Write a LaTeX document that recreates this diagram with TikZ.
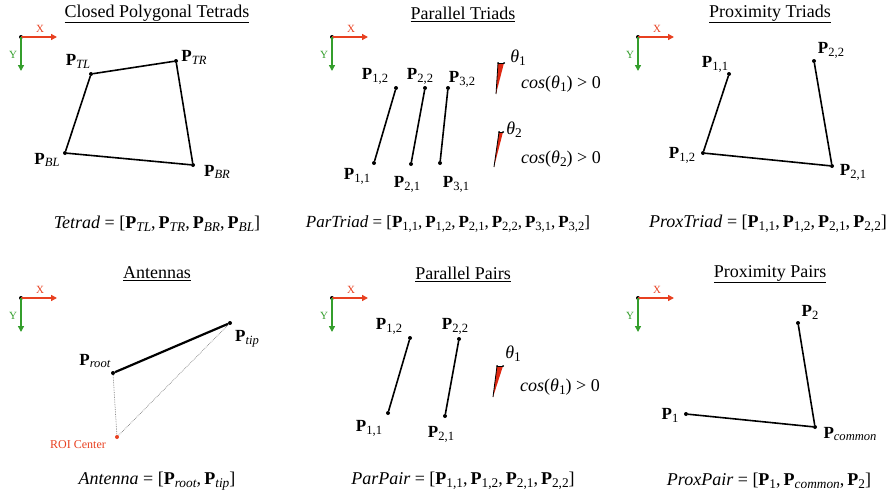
\documentclass[tikz,border=0pt]{standalone}
\usepackage{fontspec}
\usepackage{graphicx}
\setmainfont{Liberation Serif}
\usetikzlibrary{arrows.meta,calc}
\definecolor{axred}{RGB}{232,64,32}
\definecolor{axgreen}{RGB}{52,158,44}
\definecolor{wedgered}{RGB}{222,40,18}
\newcommand\mysub[1]{\raisebox{-0.17em}{\scalebox{0.74}{#1}}}
\newcommand\Pt[1]{\textbf{P}\mysub{#1}}
\newcommand\Pit[1]{\textbf{P}\mysub{\textit{#1}}}
\newcommand\cm{,\hspace{0.17em}}
\tikzset{
  pt/.style={circle,fill=black,inner sep=0pt,minimum size=4pt},
  seg/.style={line width=1.6pt},
  lbl/.style={font=\fontsize{17}{19}\selectfont,inner sep=0pt},
  ttl/.style={font=\fontsize{18}{20}\selectfont,inner sep=0pt},
  frm/.style={font=\fontsize{18}{20}\selectfont,inner sep=0pt},
  axlbl/.style={font=\fontsize{11}{12}\selectfont,inner sep=0pt},
  axarrow/.style={line width=1.4pt,-{Triangle[length=6pt,width=6pt]}},
  roi/.style={densely dotted,gray,line width=0.7pt}
}
\newcommand\drawaxes[3]{%
  \node[circle,fill=black,inner sep=0pt,minimum size=4pt] (o#3) at (#1,#2) {};
  \coordinate (xe#3) at ($(o#3)+(36,0)$);
  \coordinate (ye#3) at ($(o#3)+(0,34)$);
  \draw[axarrow,axred] (o#3.center) -- (xe#3);
  \draw[axarrow,axgreen] (o#3.center) -- (ye#3);
  \node[axlbl,text=axred] (xl#3) at ($(o#3)+(19,-8)$) {X};
  \node[axlbl,text=axgreen] (yl#3) at ($(o#3)+(-8,18)$) {Y};
}
\newcommand\mywedge[7]{%
  \coordinate (wb#7) at (#1,#2);
  \coordinate (wl#7) at (#3,#4);
  \coordinate (wr#7) at (#5,#6);
  \fill[wedgered] (wb#7) -- (wl#7) -- (wr#7) -- cycle;
  \draw[line width=0.8pt] (wb#7) -- (wl#7);
  \draw[line width=0.8pt] (wl#7) -- (wr#7);
  \fill (wl#7) circle (1pt) (wr#7) circle (1pt);
}
\begin{document}
\begin{tikzpicture}[x=1pt,y=-1pt]
\useasboundingbox (0,0) rectangle (891,498);
% ---------- Panel 1: Tetrads
\node[ttl] (t1) at (157,14) {\underline{Closed Polygonal Tetrads}};
\drawaxes{21}{37}{a}
\node[pt] (ptl) at (91,74) {};
\node[pt] (ptr) at (176,61) {};
\node[pt] (pbr) at (193,165) {};
\node[pt] (pbl) at (65,153) {};
\draw[seg] (ptl) -- (ptr) -- (pbr) -- (pbl) -- (ptl);
\node[lbl] (lptl) at (78,61) {\Pit{TL}};
\node[lbl] (lptr) at (194,57) {\Pit{TR}};
\node[lbl] (lpbl) at (47,160) {\Pit{BL}};
\node[lbl] (lpbr) at (217,172) {\Pit{BR}};
\node[frm] (f1) at (157,224) {\textit{Tetrad} = [\Pit{TL}\cm\Pit{TR}\cm\Pit{BR}\cm\Pit{BL}]};
% ---------- Panel 2: Parallel Triads
\node[ttl] (t2) at (463,14) {\underline{Parallel Triads}};
\drawaxes{332}{37}{b}
\node[pt] (a11) at (374,163) {};
\node[pt] (a12) at (396,88) {};
\node[pt] (a21) at (411,164) {};
\node[pt] (a22) at (425,88) {};
\node[pt] (a31) at (440,163) {};
\node[pt] (a32) at (448,88) {};
\draw[seg] (a11) -- (a12);
\draw[seg] (a21) -- (a22);
\draw[seg] (a31) -- (a32);
\node[lbl] (la12) at (375,76) {\Pt{1,2}};
\node[lbl] (la22) at (420,76) {\Pt{2,2}};
\node[lbl] (la32) at (462,79) {\Pt{3,2}};
\node[lbl] (la11) at (357,176) {\Pt{1,1}};
\node[lbl] (la21) at (407,184) {\Pt{2,1}};
\node[lbl] (la31) at (456,184) {\Pt{3,1}};
\mywedge{496}{94}{498}{63}{504}{63}{a}
\mywedge{494}{167}{499}{132}{503}{132}{b}
\node[frm] (th1) at (518,58) {\textit{θ}\mysub{1}};
\node[frm] (c1) at (561,84) {\textit{cos}(\textit{θ}\mysub{1}) > 0};
\node[frm] (th2) at (514,130) {\textit{θ}\mysub{2}};
\node[frm] (c2) at (561,159) {\textit{cos}(\textit{θ}\mysub{2}) > 0};
\node[frm,font=\fontsize{17}{19}\selectfont] (f2) at (448,224) {\textit{ParTriad} = [\Pt{1,1}\cm\Pt{1,2}\cm\Pt{2,1}\cm\Pt{2,2}\cm\Pt{3,1}\cm\Pt{3,2}]};
% ---------- Panel 3: Proximity Triads
\node[ttl] (t3) at (770,14) {\underline{Proximity Triads}};
\drawaxes{638}{37}{c}
\node[pt] (b11) at (729,74) {};
\node[pt] (b12) at (703,153) {};
\node[pt] (b21) at (832,166) {};
\node[pt] (b22) at (814,61) {};
\draw[seg] (b11) -- (b12) -- (b21) -- (b22);
\node[lbl] (lb11) at (715,64) {\Pt{1,1}};
\node[lbl] (lb22) at (831,50) {\Pt{2,2}};
\node[lbl] (lb12) at (682,155) {\Pt{1,2}};
\node[lbl] (lb21) at (853,172) {\Pt{2,1}};
\node[frm] (f3) at (768,224) {\textit{ProxTriad} = [\Pt{1,1}\cm\Pt{1,2}\cm\Pt{2,1}\cm\Pt{2,2}]};
% ---------- Panel 4: Antennas
\node[ttl] (t4) at (157,274) {\underline{Antennas}};
\drawaxes{21}{298}{d}
\node[pt] (root) at (113,373) {};
\node[pt] (tip) at (230,323) {};
\node[circle,fill=axred,inner sep=0pt,minimum size=4pt] (roic) at (117,437) {};
\draw[roi] (root) -- (roic) -- (tip);
\draw[line width=2.2pt] (root) -- (tip);
\node[lbl] (lroot) at (95,361) {\Pit{root}};
\node[lbl] (ltip) at (247,339) {\Pit{tip}};
\node[axlbl,font=\fontsize{12}{14}\selectfont,text=axred] (lroi) at (78,445) {ROI Center};
\node[frm] (f4) at (157,481) {\textit{Antenna} = [\Pit{root}\cm\Pit{tip}]};
% ---------- Panel 5: Parallel Pairs
\node[ttl] (t5) at (463,274) {\underline{Parallel Pairs}};
\drawaxes{332}{298}{e}
\node[pt] (c11) at (388,413) {};
\node[pt] (c12) at (410,338) {};
\node[pt] (c21) at (445,416) {};
\node[pt] (c22) at (459,339) {};
\draw[seg] (c11) -- (c12);
\draw[seg] (c21) -- (c22);
\node[lbl] (lc12) at (389,326) {\Pt{1,2}};
\node[lbl] (lc22) at (455,326) {\Pt{2,2}};
\node[lbl] (lc11) at (369,428) {\Pt{1,1}};
\node[lbl] (lc21) at (441,434) {\Pt{2,1}};
\mywedge{493}{397}{497}{366}{503}{366}{c}
\node[frm] (th3) at (513,354) {\textit{θ}\mysub{1}};
\node[frm] (c3) at (560,387) {\textit{cos}(\textit{θ}\mysub{1}) > 0};
\node[frm] (f5) at (463,481) {\textit{ParPair} = [\Pt{1,1}\cm\Pt{1,2}\cm\Pt{2,1}\cm\Pt{2,2}]};
% ---------- Panel 6: Proximity Pairs
\node[ttl] (t6) at (770,274) {\underline{Proximity Pairs}};
\drawaxes{638}{298}{f}
\node[pt] (q2) at (798,323) {};
\node[pt] (q1) at (686,414) {};
\node[pt] (qc) at (815,427) {};
\draw[seg] (q1) -- (qc) -- (q2);
\node[lbl] (lq2) at (810,312) {\Pt{2}};
\node[lbl] (lq1) at (670,415) {\Pt{1}};
\node[lbl] (lqc) at (850,434) {\Pit{common}};
\node[frm] (f6) at (769,481) {\textit{ProxPair} = [\Pt{1}\cm\Pit{common}\cm\Pt{2}]};
\end{tikzpicture}
\end{document}
